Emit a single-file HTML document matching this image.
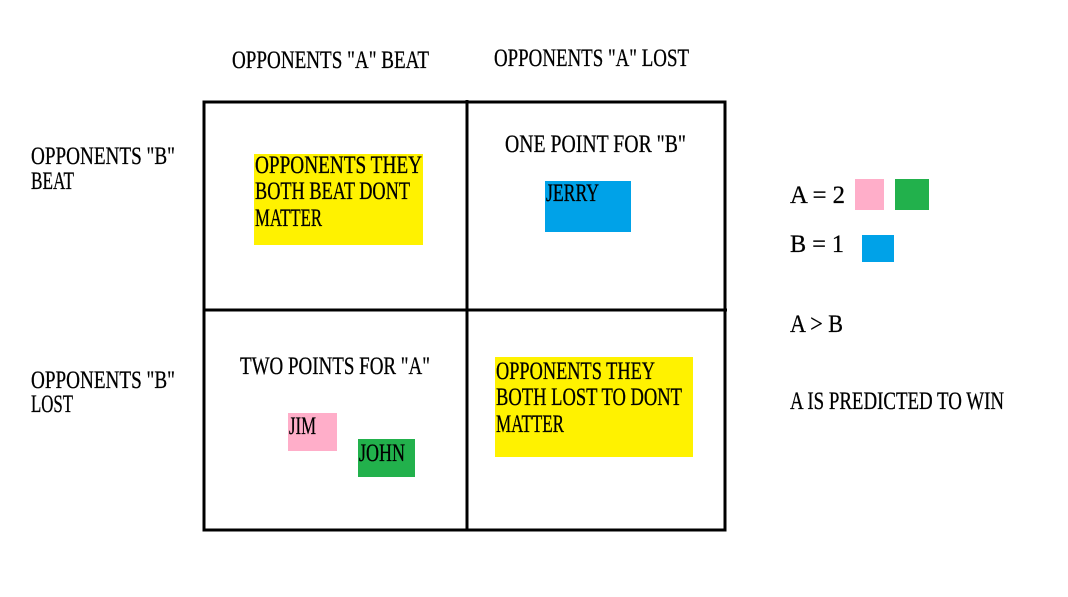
<!DOCTYPE html>
<html><head><meta charset="utf-8"><style>
html,body{margin:0;padding:0;background:#fff;}
svg{display:block;}
text{font-family:"Liberation Serif",serif;font-size:25px;fill:#000;stroke:#000;stroke-width:0.3px;}
</style></head><body>
<svg width="1068" height="597" viewBox="0 0 1068 597">
<rect x="0" y="0" width="1068" height="597" fill="#fff"/>
<g fill="none" stroke="#000" stroke-width="3">
<rect x="204" y="102" width="521" height="428"/>
<line x1="467" y1="100" x2="467" y2="531"/>
<line x1="203" y1="310" x2="727" y2="310"/>
</g>
<text x="232" y="68" textLength="197" lengthAdjust="spacingAndGlyphs">OPPONENTS "A" BEAT</text>
<text x="494" y="66" textLength="195" lengthAdjust="spacingAndGlyphs">OPPONENTS "A" LOST</text>
<text x="31" y="164" textLength="144" lengthAdjust="spacingAndGlyphs">OPPONENTS "B"</text>
<text x="31" y="189" textLength="43" lengthAdjust="spacingAndGlyphs">BEAT</text>
<text x="31" y="388" textLength="144" lengthAdjust="spacingAndGlyphs">OPPONENTS "B"</text>
<text x="31" y="412" textLength="42" lengthAdjust="spacingAndGlyphs">LOST</text>

<rect x="254" y="154" width="169" height="91" fill="#fff200" stroke="none"/>
<text x="255" y="173" textLength="167" lengthAdjust="spacingAndGlyphs">OPPONENTS THEY</text>
<text x="255" y="199" textLength="155" lengthAdjust="spacingAndGlyphs">BOTH BEAT DONT</text>
<text x="255" y="226" textLength="67" lengthAdjust="spacingAndGlyphs">MATTER</text>

<text x="505" y="152" textLength="181" lengthAdjust="spacingAndGlyphs">ONE POINT FOR "B"</text>
<rect x="545" y="181" width="86" height="51" fill="#00a2e8"/>
<text x="546" y="201" textLength="53" lengthAdjust="spacingAndGlyphs">JERRY</text>

<text x="240" y="374" textLength="190" lengthAdjust="spacingAndGlyphs">TWO POINTS FOR "A"</text>
<rect x="288" y="413" width="49" height="38" fill="#ffaec9"/>
<text x="289" y="434" textLength="27" lengthAdjust="spacingAndGlyphs">JIM</text>
<rect x="358" y="439" width="57" height="38" fill="#22b14c"/>
<text x="359" y="461" textLength="46" lengthAdjust="spacingAndGlyphs">JOHN</text>

<rect x="495" y="357" width="198" height="100" fill="#fff200"/>
<text x="496" y="379" textLength="159" lengthAdjust="spacingAndGlyphs">OPPONENTS THEY</text>
<text x="496" y="405" textLength="186" lengthAdjust="spacingAndGlyphs">BOTH LOST TO DONT</text>
<text x="496" y="432" textLength="68" lengthAdjust="spacingAndGlyphs">MATTER</text>

<text x="790" y="203" textLength="55" lengthAdjust="spacingAndGlyphs">A = 2</text>
<rect x="855" y="179" width="29" height="31" fill="#ffaec9"/>
<rect x="895" y="179" width="34" height="31" fill="#22b14c"/>
<text x="790" y="252" textLength="54" lengthAdjust="spacingAndGlyphs">B = 1</text>
<rect x="862" y="235" width="32" height="27" fill="#00a2e8"/>
<text x="790" y="332" textLength="53" lengthAdjust="spacingAndGlyphs">A &gt; B</text>
<text x="790" y="409" textLength="214" lengthAdjust="spacingAndGlyphs">A IS PREDICTED TO WIN</text>
</svg>
</body></html>
